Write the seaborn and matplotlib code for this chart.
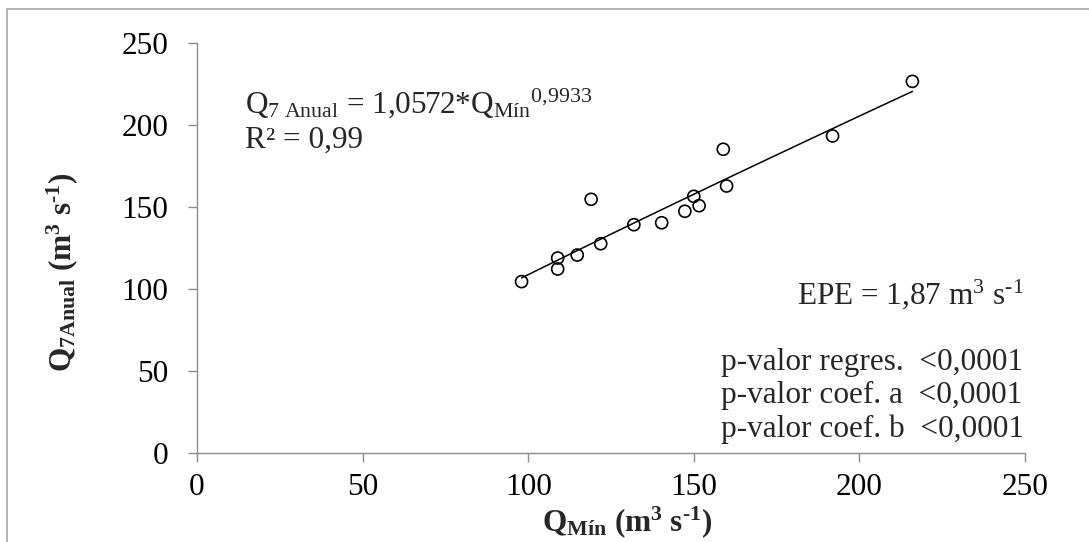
import numpy as np
import pandas as pd
import matplotlib
matplotlib.use("Agg")
import matplotlib.pyplot as plt
import matplotlib.patches as mpatches
import seaborn as sns

# ---- data ----
q_min = [98.0, 108.9, 108.9, 114.8, 121.9, 119.0, 131.9, 140.3, 147.3, 150.0, 151.6, 158.9, 159.9, 191.9, 216.0]
q7_anual = [104.5, 112.2, 118.9, 120.7, 127.6, 154.7, 139.2, 140.4, 147.4, 156.5, 150.8, 185.2, 162.8, 193.3, 226.6]
x_ticks = [0, 50, 100, 150, 200, 250]
y_ticks = [0, 50, 100, 150, 200, 250]

eq_text = r'Q$_{\mathregular{7\ Anual}}$ = 1,0572*Q$_{\mathregular{Mín}}$$^{\mathregular{0{,}9933}}$'
r2_text = 'R² = 0,99'
epe_text = r'EPE = 1,87 m$^{\mathregular{3}}$ s$^{\text{-1}}$'
pval_text = 'p-valor regres.  <0,0001\np-valor coef. a  <0,0001\np-valor coef. b  <0,0001'
x_label = r'$\mathbf{Q_{Mín}}$ $\mathbf{(m^{3}\ s}^{\mathbf{\text{-}1}}\mathbf{)}$'
y_label = r'$\mathbf{Q_{7Anual}}$ $\mathbf{(m^{3}\ s}^{\mathbf{\text{-}1}}\mathbf{)}$'

df = pd.DataFrame({"qmin": q_min, "q7": q7_anual})

# power trendline fitted in log space (as a spreadsheet power trendline)
b, loga = np.polyfit(np.log(df["qmin"]), np.log(df["q7"]), 1)
a = np.exp(loga)
xs = np.linspace(df["qmin"].min(), df["qmin"].max(), 100)
trend = pd.DataFrame({"x": xs, "y": a * xs ** b})

sns.set_theme(style="white")
plt.rcParams.update({
    "font.family": ["Liberation Serif", "DejaVu Serif"],
    "mathtext.fontset": "custom",
    "mathtext.rm": "Liberation Serif",
    "mathtext.it": "Liberation Serif:italic",
    "mathtext.bf": "Liberation Serif:bold",
})

FS = 22.5
W, H = 1089, 542
fig = plt.figure(figsize=(W / 100, H / 100), dpi=100)
fig.patch.set_facecolor("white")

# outer chart border (cut at right/bottom as in reference)
border = mpatches.Rectangle((7 / W, 0 - 0.05), 1.2, 1 - 9 / H + 0.05,
                            transform=fig.transFigure, fill=False,
                            edgecolor="#a6a6a6", linewidth=1.2, zorder=0)
fig.patches.append(border)

ax = fig.add_axes([197 / W, 1 - 453 / H, (1025 - 197) / W, (453 - 43) / H])
ax.set_facecolor("none")

sns.lineplot(data=trend, x="x", y="y", ax=ax, color="black", linewidth=1.1, sort=False)
sns.scatterplot(data=df, x="qmin", y="q7", ax=ax, marker="o", s=75,
                facecolor="none", edgecolor="black", linewidth=1.2, zorder=3)

ax.set_xlim(0, 250)
ax.set_ylim(0, 250)
ax.set_xticks(x_ticks)
ax.set_yticks(y_ticks)
ax.set_xticklabels([str(t) for t in x_ticks])
ax.set_yticklabels([str(t) for t in y_ticks])
for s in ["top", "right"]:
    ax.spines[s].set_visible(False)
for s in ["left", "bottom"]:
    ax.spines[s].set_color("#8c8c8c")
    ax.spines[s].set_linewidth(1.0)
ax.tick_params(axis="both", which="major", direction="out", length=6.5, width=1.0,
               color="#8c8c8c", labelsize=FS, labelcolor="black")
ax.tick_params(axis="y", pad=14, left=True)
ax.tick_params(axis="x", pad=8, bottom=True)
ax.set_xlabel("")
ax.set_ylabel("")
ax.grid(False)

def fpos(px, py):
    return px / W, 1 - py / H

fig.text(*fpos(627, 531), x_label, ha="center", va="baseline", fontsize=FS)
fig.text(*fpos(62, 272), y_label, ha="center", va="center", rotation=90, fontsize=FS)

fig.text(*fpos(245, 113), eq_text, ha="left", va="baseline", fontsize=FS)
fig.text(*fpos(245, 148), r2_text, ha="left", va="baseline", fontsize=FS)
fig.text(*fpos(1024, 304), epe_text, ha="right", va="baseline", fontsize=FS)
fig.text(*fpos(1024, 437), pval_text, ha="right", va="baseline", fontsize=FS,
         multialignment="left", linespacing=1.2)

fig.savefig("out.png", dpi=100)
